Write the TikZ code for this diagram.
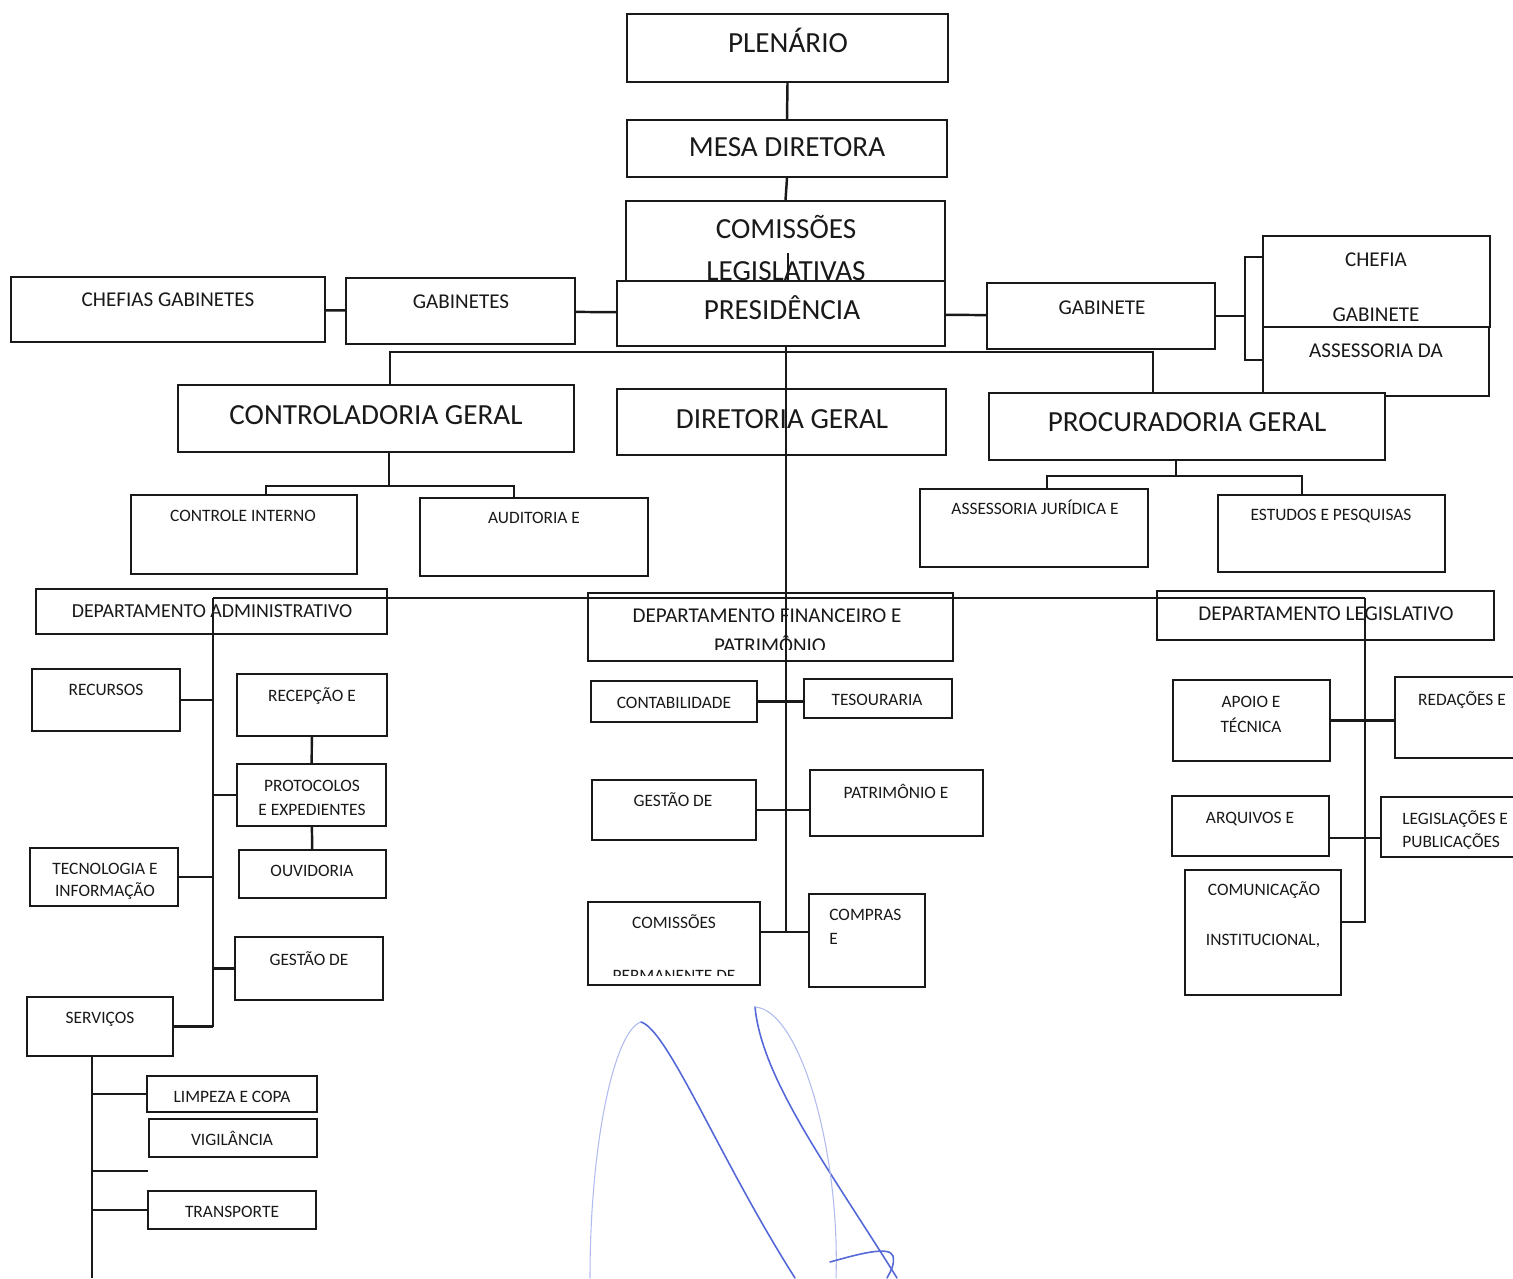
\documentclass[tikz,border=0pt]{standalone}
\usepackage{fontspec}
\setmainfont{Carlito}
\usetikzlibrary{fit}
\definecolor{ink}{HTML}{5468D8}
\definecolor{inkfaint}{HTML}{B0BBEE}
\tikzset{
  box/.style={draw=black!90, line width=1.1pt, fill=white, inner sep=0pt},
  link/.style={draw=black!90, line width=1.4pt},
  bigtxt/.style={font=\fontsize{16.6}{20}\selectfont, text=black!90, inner sep=0pt, text height=10.5pt, text depth=0pt},
  midtxt/.style={font=\fontsize{12}{14}\selectfont, text=black!90, inner sep=0pt, text height=7.6pt, text depth=0pt},
  smalltxt/.style={font=\fontsize{9.9}{12}\selectfont, text=black!90, inner sep=0pt, text height=6.3pt, text depth=0pt},
  sig/.style={draw=ink, line width=0.9pt, line cap=round},
  sigfaint/.style={draw=inkfaint, line width=0.6pt, line cap=round}
}
\begin{document}
\begin{tikzpicture}[x=0.02cm, y=-0.02cm]
  \useasboundingbox (0,0) rectangle (1513,1278);

  % comissoes sits behind the presidencia box
  \node[box, fit={(626,201) (945,284)}] (com) {};
  \node[bigtxt] (com-t1) at (786,229) {COMISSÕES};
  \node[bigtxt] (com-t2) at (786,271) {LEGISLATIVAS};

  % boxes
  \foreach \name/\xa/\ya/\xb/\yb in {pres/617/281/945/346, plen/627/14/948/82, mesa/627/120/947/177,
      chefs/11/277/325/342, gabs/346/278/575/344, gab/987/283/1215/349,
      chefia/1263/236/1490/327, assess/1263/327/1489/396,
      ctrl/178/385/574/452, dir/617/389/946/455, proc/989/393/1385/460,
      cint/131/495/357/574, audit/420/498/648/576, asjur/920/489/1148/567, estud/1218/495/1445/572,
      adm/36/589/387/634, fin/588/593/953/661, leg/1157/591/1494/640,
      recur/32/669/180/731, recep/237/674/387/736, proto/237/764/386/826, ouvid/239/850/386/898,
      tecno/30/848/178/906, gestA/235/937/383/1000, serv/27/997/173/1056,
      limp/147/1076/317/1112, vigil/149/1119/317/1157, transp/148/1191/316/1229,
      contab/591/681/757/722, tesour/804/679/952/718, gestB/592/780/756/840, patrim/810/770/983/836,
      cperm/588/902/760/985, compr/809/894/925/987,
      apoio/1173/680/1330/761, redac/1395/677/1530/758, arquiv/1172/796/1329/856,
      legis/1381/797/1530/857, comun/1185/870/1341/995}
    \node[box, fit={(\xa,\ya) (\xb,\yb)}] (\name) {};

  % labels
  \foreach \name/\x/\y/\txt in {plen/788/43/PLENÁRIO, mesa/787/147/MESA DIRETORA, pres/782/310/PRESIDÊNCIA,
      ctrl/376/415/CONTROLADORIA GERAL, dir/782/419/DIRETORIA GERAL, proc/1187/422/PROCURADORIA GERAL}
    \node[bigtxt] (\name-t) at (\x,\y) {\txt};
  \foreach \name/\x/\y/\txt in {chefs/168/300/CHEFIAS GABINETES, gabs/461/302/GABINETES, gab/1102/308/GABINETE,
      chefia1/1376/260/CHEFIA, chefia2/1376/315/GABINETE, assess/1376/351/ASSESSORIA DA,
      fin1/767/616/DEPARTAMENTO FINANCEIRO E, leg/1326/614/DEPARTAMENTO LEGISLATIVO}
    \node[midtxt] (\name-t) at (\x,\y) {\txt};
  \node[midtxt, font=\fontsize{11.3}{14}\selectfont] (adm-t) at (212,611) {DEPARTAMENTO ADMINISTRATIVO};
  \foreach \name/\x/\y/\txt in {cint/243/516/CONTROLE INTERNO, audit/534/518/AUDITORIA E,
      asjur/1035/509/ASSESSORIA JURÍDICA E, estud/1331/515/ESTUDOS E PESQUISAS,
      recur/106/690/RECURSOS, recep/312/696/RECEPÇÃO E, proto1/312/786/PROTOCOLOS, proto2/312/810/E EXPEDIENTES,
      ouvid/312/871/OUVIDORIA, tecno1/105/869/TECNOLOGIA E, gestA/309/960/GESTÃO DE, serv/100/1018/SERVIÇOS,
      limp/232/1097/LIMPEZA E COPA, vigil/232/1140/VIGILÂNCIA, transp/232/1212/TRANSPORTE,
      contab/674/703/CONTABILIDADE, tesour/877/700/TESOURARIA, gestB/673/801/GESTÃO DE,
      patrim/896/793/PATRIMÔNIO E, cperm1/674/923/COMISSÕES,
      apoio1/1251/702/APOIO E, apoio2/1251/727/TÉCNICA, redac/1462/700/REDAÇÕES E,
      arquiv/1250/818/ARQUIVOS E, comun1/1264/890/COMUNICAÇÃO, comun2/1263/940/{INSTITUCIONAL,}}
    \node[smalltxt] (\name-t) at (\x,\y) {\txt};
  \node[smalltxt, anchor=west] (compr-t1) at (829,915) {COMPRAS};
  \node[smalltxt, anchor=west] (compr-t2) at (829,939) {E};
  \node[smalltxt, anchor=west] (legis-t1) at (1402,819) {LEGISLAÇÕES E};

  % lines cut off by the box edges
  \begin{scope}
    \clip (588,593) rectangle (953,649);
    \node[midtxt] (fin2-t) at (770,646) {PATRIMÔNIO};
  \end{scope}
  \begin{scope}
    \clip (30,848) rectangle (178,898);
    \node[smalltxt] (tecno2-t) at (105,891) {INFORMAÇÃO};
  \end{scope}
  \begin{scope}
    \clip (588,902) rectangle (760,975);
    \node[smalltxt] (cperm2-t) at (674,976) {PERMANENTE DE};
  \end{scope}
  \begin{scope}
    \clip (1381,797) rectangle (1530,848);
    \node[smalltxt, anchor=west] (legis-t2) at (1402,842) {PUBLICAÇÕES};
  \end{scope}

  % top chain
  \draw[link] (plen.south) -- (mesa.north);
  \draw[link] (mesa.south) -- (com.north);
  \coordinate (comtick) at (788,253);
  \draw[link] (comtick) -- (comtick |- pres.north);
  \draw[link] (chefs) -- (gabs);
  \draw[link] (gabs) -- (pres);
  \draw[link] (pres) -- (gab);
  \coordinate (brk) at (1245,316);
  \coordinate (brkT) at (1245,257);
  \coordinate (brkB) at (1245,360);
  \draw[link] (gab.east) -- (brk);
  \draw[link] (chefia.west |- brkT) -- (brkT) -- (brkB) -- (assess.west |- brkB);

  % presidencia fork and spine
  \coordinate (busL) at (390,352);
  \coordinate (busR) at (1153,352);
  \coordinate (spineEnd) at (786,932);
  \draw[link] (ctrl.north -| busL) -- (busL) -- (busR) -- (proc.north -| busR);
  \draw[link] (pres.south -| spineEnd) -- (spineEnd);

  \coordinate (ctrlF) at (389,486);
  \coordinate (ctrlA) at (266,486);
  \coordinate (ctrlB) at (514,486);
  \draw[link] (ctrl.south -| ctrlF) -- (ctrlF);
  \draw[link] (cint.north -| ctrlA) -- (ctrlA) -- (ctrlB) -- (audit.north -| ctrlB);
  \coordinate (procF) at (1176,476);
  \coordinate (procA) at (1047,476);
  \coordinate (procB) at (1302,476);
  \draw[link] (proc.south -| procF) -- (procF);
  \draw[link] (asjur.north -| procA) -- (procA) -- (procB) -- (estud.north -| procB);

  % departamentos
  \coordinate (depL) at (213,598);
  \coordinate (depR) at (1365,598);
  \draw[link] (depL) -- (depR);
  \draw[link] (depL) -- (depL |- serv.east);
  \draw[link] (recur.east) -- (recur.east -| depL);
  \draw[link] (proto.west) -- (proto.west -| depL);
  \draw[link] (tecno.east) -- (tecno.east -| depL);
  \draw[link] (gestA.west) -- (gestA.west -| depL);
  \draw[link] (serv.east) -- (serv.east -| depL);
  \draw[link] (recep) -- (proto);
  \draw[link] (proto) -- (ouvid);

  \coordinate (servEnd) at (92,1278);
  \coordinate (servStub) at (148,1171);
  \draw[link] (serv.south -| servEnd) -- (servEnd);
  \draw[link] (limp.west) -- (limp.west -| servEnd);
  \draw[link] (servStub) -- (servStub -| servEnd);
  \draw[link] (transp.west) -- (transp.west -| servEnd);

  \draw[link] (contab.east) -- (contab.east -| tesour.west);
  \draw[link] (gestB.east) -- (gestB.east -| patrim.west);
  \draw[link] (cperm.east |- spineEnd) -- (compr.west |- spineEnd);

  \coordinate (legArq) at (1365,838);
  \coordinate (legEnd) at (1365,922);
  \draw[link] (apoio.east) -- (apoio.east -| redac.west);
  \draw[link] (arquiv.east |- legArq) -- (legis.west |- legArq);
  \draw[link] (depR) -- (legEnd) -- (comun.east |- legEnd);

  % signature
  \draw[sigfaint] (590,1278) .. controls (590,1140) and (615,1030) .. (641,1022);
  \draw[sig] (641,1022) .. controls (668,1030) and (720,1160) .. (795,1278);
  \draw[sig] (755,1007) .. controls (762,1080) and (830,1170) .. (897,1278);
  \draw[sigfaint] (755,1007) .. controls (800,1010) and (840,1150) .. (836,1278);
  \draw[sig] (830,1262) .. controls (855,1255) and (890,1245) .. (893,1256) .. controls (895,1265) and (890,1272) .. (887,1278);
\end{tikzpicture}
\end{document}
